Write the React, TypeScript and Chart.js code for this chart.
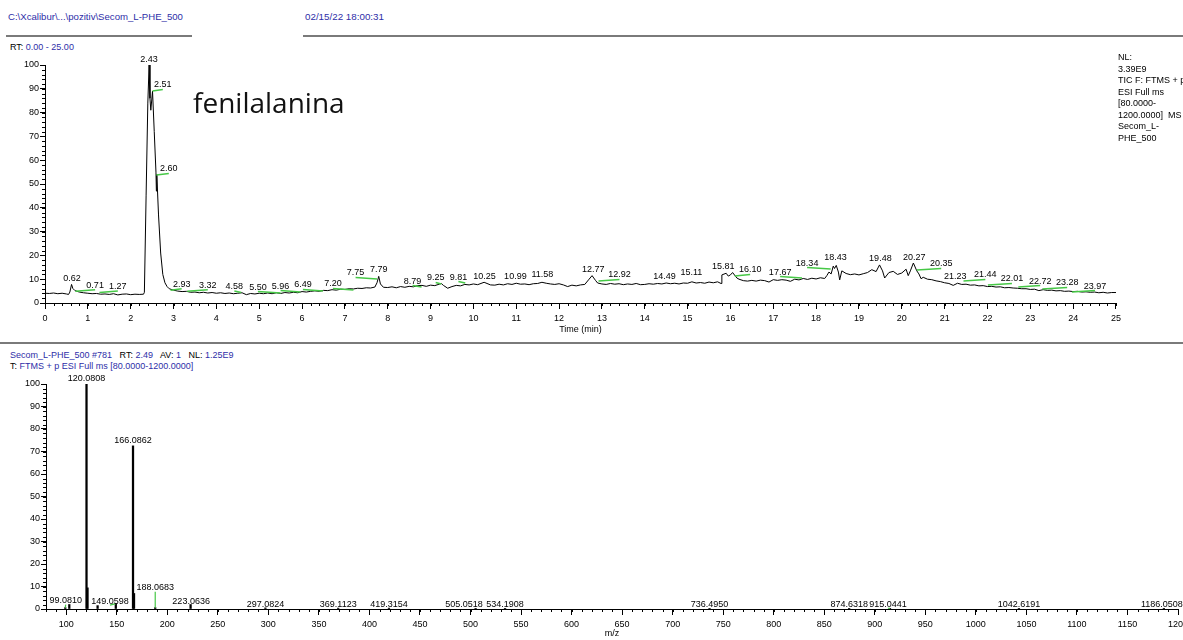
import React, { useEffect, useRef } from "react";
import { Chart, registerables } from "chart.js";

Chart.register(...registerables);

const FONT = '"Liberation Sans", Arial, Helvetica, sans-serif';
const BLUE = "#2e2ea8";
const GREEN = "#46c846";

// ---------- Chromatogram (TIC) ----------
const chromTime = [
  0, 0.1, 0.2, 0.3, 0.4, 0.5, 0.55, 0.58, 0.62, 0.65, 0.7, 0.8, 0.9,
  1, 1.1, 1.2, 1.3, 1.4, 1.5, 1.6, 1.7, 1.8, 1.9,
  2, 2.1, 2.2, 2.3, 2.32, 2.36, 2.4, 2.43, 2.45, 2.47, 2.51, 2.55, 2.59, 2.6, 2.61, 2.65, 2.7, 2.75, 2.8, 2.85, 2.9,
  3, 3.1, 3.2, 3.3, 3.4, 3.5, 3.6, 3.7, 3.8, 3.9,
  4, 4.1, 4.2, 4.3, 4.4, 4.5, 4.6, 4.7, 4.8, 4.9,
  5, 5.1, 5.2, 5.3, 5.4, 5.5, 5.6, 5.7, 5.8, 5.9,
  6, 6.1, 6.2, 6.3, 6.4, 6.5, 6.6, 6.7, 6.8, 6.9,
  7, 7.1, 7.2, 7.3, 7.4, 7.5, 7.6, 7.7, 7.75, 7.79, 7.83, 7.9,
  8, 8.1, 8.2, 8.3, 8.4, 8.5, 8.6, 8.7, 8.8, 8.9,
  9, 9.1, 9.2, 9.25, 9.3, 9.4, 9.5, 9.6, 9.7, 9.8, 9.9,
  10, 10.1, 10.25, 10.4, 10.5, 10.6, 10.7, 10.8, 10.9,
  11, 11.1, 11.2, 11.3, 11.4, 11.5, 11.6, 11.7, 11.8, 11.9,
  12, 12.1, 12.2, 12.3, 12.4, 12.5, 12.6, 12.7, 12.77, 12.85, 12.9,
  13, 13.1, 13.2, 13.3, 13.4, 13.5, 13.6, 13.7, 13.8, 13.9,
  14, 14.1, 14.2, 14.3, 14.4, 14.5, 14.6, 14.7, 14.8, 14.9,
  15, 15.1, 15.2, 15.3, 15.4, 15.5, 15.6, 15.7, 15.78, 15.8, 15.9, 15.95,
  16, 16.05, 16.15, 16.2, 16.3, 16.4, 16.5, 16.6, 16.7, 16.8, 16.9,
  17, 17.1, 17.2, 17.3, 17.4, 17.5, 17.6, 17.7, 17.8, 17.9,
  18, 18.1, 18.2, 18.25, 18.3, 18.35, 18.4, 18.43, 18.47, 18.52, 18.55, 18.6, 18.7, 18.8, 18.9,
  19, 19.1, 19.2, 19.3, 19.4, 19.48, 19.55, 19.6, 19.7, 19.8, 19.9,
  20, 20.1, 20.15, 20.2, 20.27, 20.35, 20.4, 20.45, 20.5, 20.6, 20.7, 20.8, 20.9,
  21, 21.1, 21.2, 21.3, 21.4, 21.5, 21.6, 21.7, 21.8, 21.9,
  22, 22.1, 22.2, 22.3, 22.4, 22.5, 22.6, 22.7, 22.8, 22.9,
  23, 23.1, 23.2, 23.3, 23.4, 23.5, 23.6, 23.7, 23.8, 23.9,
  24, 24.1, 24.2, 24.3, 24.4, 24.5, 24.6, 24.7, 24.8, 24.9,
  25,
];
const chromRel = [
  4.1, 4.0, 4.2, 3.9, 4.1, 3.8, 3.6, 4.6, 7.8, 6.1, 5.2, 4.6, 4.3,
  4.1, 3.9, 4.0, 3.7, 3.8, 3.6, 3.9, 3.4, 3.7, 3.8,
  3.5, 3.7, 3.6, 3.7, 4.5, 45, 84, 100, 86, 81, 89, 72, 55, 47, 54, 37, 21, 12, 8.5, 6.9, 6.0,
  5.4, 5.0, 4.8, 4.9, 4.5, 4.6, 4.3, 4.5, 4.2, 4.4,
  4.1, 4.3, 4.0, 4.2, 3.9, 4.1, 4.3, 3.5, 4.0, 3.8,
  4.1, 3.9, 4.2, 3.9, 4.3, 4.0, 4.4, 4.2, 4.5, 4.3,
  4.8, 4.6, 4.9, 5.1, 4.9, 5.3, 5.2, 5.6, 5.4, 5.8,
  5.7, 6.0, 5.9, 6.2, 6.1, 6.4, 6.3, 6.7, 8.5, 11.2, 8.0, 6.6,
  6.5, 6.8, 6.4, 6.9, 6.6, 7.0, 6.8, 7.3, 7.4, 7.0,
  7.5, 7.3, 7.9, 8.2, 7.4, 6.2, 6.9, 7.4, 7.2, 7.8, 7.6,
  8.0, 7.7, 8.7, 7.6, 7.5, 7.9, 7.6, 8.1, 7.8,
  8.3, 7.9, 8.0, 7.7, 8.1, 8.2, 8.7, 8.3, 8.0, 7.8,
  8.1, 7.6, 6.9, 7.5, 7.2, 7.6, 7.8, 10.0, 11.5, 9.5, 8.4,
  8.0, 7.8, 8.2, 7.9, 8.1, 7.7, 8.0, 7.8, 8.2, 7.7,
  7.8, 8.1, 7.9, 8.2, 8.0, 8.4, 8.1, 8.3, 8.0, 8.4,
  8.3, 8.9, 8.4, 8.6, 8.3, 8.8, 8.5, 8.9, 8.2, 11.8, 12.5, 11.3,
  11.8, 12.8, 10.5, 10.0, 9.4, 9.2, 9.5, 9.2, 9.6, 9.4, 8.8,
  9.8, 9.5, 9.8, 9.6, 9.1, 10.0, 9.7, 10.3, 9.9, 10.4,
  10.1, 10.6, 10.3, 11.5, 13.0, 12.2, 15.5, 14.5, 15.8, 13.0, 9.7, 13.5, 12.4, 11.9, 12.2,
  11.8, 12.3, 12.8, 14.0, 13.2, 16.0, 13.5, 10.5, 12.8, 13.3, 12.0,
  12.6, 14.2, 11.5, 13.5, 16.8, 13.5, 12.2, 10.2, 10.8, 10.0, 9.8, 9.3, 9.0,
  8.5, 8.2, 7.4, 8.3, 7.8, 7.9, 7.5, 7.6, 7.2, 7.3,
  6.9, 7.0, 6.7, 6.8, 6.4, 6.5, 6.3, 6.2, 6.0, 6.0,
  5.7, 5.8, 5.2, 5.6, 5.3, 5.4, 5.1, 5.2, 4.9, 5.0,
  4.8, 4.9, 4.6, 4.7, 4.5, 4.6, 4.3, 4.5, 4.2, 4.4,
  4.4,
];
const rtTicks = [0, 1, 2, 3, 4, 5, 6, 7, 8, 9, 10, 11, 12, 13, 14, 15, 16, 17, 18, 19, 20, 21, 22, 23, 24, 25];
const relTicks = [0, 10, 20, 30, 40, 50, 60, 70, 80, 90, 100];

// peak annotations: apex RT, where the text sits (RT), and its height (%)
const rtPeaks = [0.62, 0.71, 1.27, 2.43, 2.51, 2.6, 2.93, 3.32, 4.58, 5.5, 5.96, 6.49, 7.2, 7.75, 7.79, 8.79, 9.25, 9.81, 10.25, 10.99, 11.58, 12.77, 12.92, 14.49, 15.11, 15.81, 16.1, 17.67, 18.34, 18.43, 19.48, 20.27, 20.35, 21.23, 21.44, 22.01, 22.72, 23.28, 23.97];
const rtLabelAt = [0.63, 1.17, 1.70, 2.43, 2.75, 2.89, 3.19, 3.80, 4.42, 4.97, 5.50, 6.02, 6.72, 7.25, 7.79, 8.58, 9.12, 9.65, 10.26, 10.98, 11.61, 12.80, 13.41, 14.46, 15.09, 15.83, 16.46, 17.16, 17.79, 18.45, 19.50, 20.29, 20.92, 21.25, 21.95, 22.57, 23.23, 23.86, 24.51];
const rtLabelLevel = [10.1, 7.5, 6.9, 102.5, 91.6, 56.3, 7.9, 7.5, 6.9, 6.7, 7.1, 7.6, 8.0, 12.6, 13.9, 9.2, 10.5, 10.9, 11.3, 11.3, 11.8, 13.9, 11.8, 11.3, 12.6, 15.5, 13.9, 13.0, 16.8, 19.3, 18.9, 19.3, 16.4, 11.3, 11.8, 10.1, 9.2, 8.4, 7.1];

// ---------- Mass spectrum ----------
const msMz = [99.081, 103.05, 120.0808, 121.0841, 131.05, 149.0598, 166.0862, 167.0895, 188.0683, 223.0636, 297.0824, 369.1123, 419.3154, 505.0518, 534.1908, 736.495, 874.6318, 915.0441, 1042.6191, 1186.0508];
const msRel = [0.6, 2.0, 100, 9.4, 1.5, 2.4, 72.5, 6.9, 0.6, 2.0, 0.5, 0.4, 0.4, 0.3, 0.3, 0.3, 0.3, 0.3, 0.3, 0.3];
const mzTicks = [100, 150, 200, 250, 300, 350, 400, 450, 500, 550, 600, 650, 700, 750, 800, 850, 900, 950, 1000, 1050, 1100, 1150, 1200];

const msLabelMz = [99.081, 120.0808, 149.0598, 166.0862, 188.0683, 223.0636, 297.0824, 369.1123, 419.3154, 505.0518, 534.1908, 736.495, 874.6318, 915.0441, 1042.6191, 1186.0508];
const msLabelAt = [99.5, 120.0808, 143.3, 166.0862, 188.0683, 223.6, 297.0824, 369.1123, 419.3154, 493.6, 534.1908, 736.495, 874.6318, 913.0, 1042.6191, 1184.0];
const msLabelLevel = [2.6, 101.5, 2.4, 73.6, 8.3, 2.2, 1.0, 1.0, 1.0, 1.0, 1.0, 1.0, 1.0, 1.0, 1.0, 1.0];
const msLabelLeader = [true, false, true, false, true, false, false, false, false, false, false, false, false, true, false, false];

// ---------- plugins ----------
const makeMinorTicks = (xStep: number, yStep: number, len: number) => ({
  id: "minorTicks",
  afterDraw(chart: any) {
    const { ctx, chartArea, scales } = chart;
    const xs = scales.x;
    const ys = scales.y;
    ctx.save();
    ctx.strokeStyle = "#000";
    ctx.lineWidth = 1;
    ctx.beginPath();
    const nx = Math.round((xs.max - xs.min) / xStep);
    for (let i = 0; i <= nx; i++) {
      const px = Math.round(xs.getPixelForValue(xs.min + i * xStep)) + 0.5;
      ctx.moveTo(px, chartArea.bottom);
      ctx.lineTo(px, chartArea.bottom + len);
    }
    const ny = Math.round((ys.max - ys.min) / yStep);
    for (let i = 0; i <= ny; i++) {
      const py = Math.round(ys.getPixelForValue(ys.min + i * yStep)) + 0.5;
      ctx.moveTo(chartArea.left - len, py);
      ctx.lineTo(chartArea.left, py);
    }
    ctx.stroke();
    ctx.restore();
  },
});

const rtLabelPlugin = {
  id: "rtLabels",
  afterDatasetsDraw(chart: any) {
    const { ctx, scales } = chart;
    const xs = scales.x;
    const ys = scales.y;
    ctx.save();
    ctx.font = `9px ${FONT}`;
    ctx.textAlign = "center";
    ctx.textBaseline = "middle";
    rtPeaks.forEach((rt, i) => {
      const tx = xs.getPixelForValue(rtLabelAt[i]);
      const ty = ys.getPixelForValue(rtLabelLevel[i]);
      const px = xs.getPixelForValue(rt);
      if (Math.abs(px - tx) > 3) {
        ctx.strokeStyle = GREEN;
        ctx.lineWidth = 1.5;
        ctx.beginPath();
        ctx.moveTo(px, ty + 6);
        ctx.lineTo(tx, ty + 4.5);
        ctx.stroke();
      }
      ctx.fillStyle = "#000";
      ctx.fillText(rt.toFixed(2), tx, ty);
    });
    ctx.restore();
  },
};

const msLabelPlugin = {
  id: "msLabels",
  afterDatasetsDraw(chart: any) {
    const { ctx, scales } = chart;
    const xs = scales.x;
    const ys = scales.y;
    ctx.save();
    ctx.font = `9px ${FONT}`;
    ctx.textAlign = "center";
    ctx.textBaseline = "alphabetic";
    msLabelMz.forEach((mz, i) => {
      const tx = xs.getPixelForValue(msLabelAt[i]);
      const ty = ys.getPixelForValue(msLabelLevel[i]);
      if (msLabelLeader[i]) {
        const px = xs.getPixelForValue(mz);
        const py = ys.getPixelForValue(msRel[msMz.indexOf(mz)]);
        ctx.strokeStyle = GREEN;
        ctx.lineWidth = 1.2;
        ctx.beginPath();
        ctx.moveTo(tx, ty + 1.5);
        ctx.lineTo(px, py);
        ctx.stroke();
      }
      ctx.fillStyle = "#000";
      ctx.fillText(mz.toFixed(4), tx, ty);
    });
    ctx.restore();
  },
};

const tickFont = { family: FONT, size: 9 };

export default function App() {
  const topRef = useRef<HTMLCanvasElement>(null);
  const botRef = useRef<HTMLCanvasElement>(null);

  useEffect(() => {
    const top = new Chart(topRef.current as HTMLCanvasElement, {
      type: "line",
      data: {
        datasets: [
          {
            data: chromTime.map((t, i) => ({ x: t, y: chromRel[i] })),
            borderColor: "#000",
            borderWidth: 1,
            pointRadius: 0,
            tension: 0,
            fill: false,
          },
        ],
      },
      options: {
        animation: false,
        responsive: false,
        events: [],
        layout: { padding: { left: 0, right: 8, top: 15, bottom: 0 } },
        plugins: { legend: { display: false }, tooltip: { enabled: false } },
        scales: {
          x: {
            type: "linear",
            min: 0,
            max: 25,
            afterBuildTicks: (s: any) => {
              s.ticks = rtTicks.map((v) => ({ value: v }));
            },
            afterFit: (s: any) => {
              s.height = 37;
            },
            ticks: { font: tickFont, color: "#000", padding: 4, maxRotation: 0, autoSkip: false, callback: (v: any) => String(v) },
            grid: { drawOnChartArea: false, drawTicks: true, tickLength: 6, tickColor: "#000" },
            border: { display: true, color: "#000", width: 1 },
            title: { display: true, text: "Time (min)", font: tickFont, color: "#000", padding: { top: 0, bottom: 5 } },
          },
          y: {
            type: "linear",
            min: 0,
            max: 100,
            afterBuildTicks: (s: any) => {
              s.ticks = relTicks.map((v) => ({ value: v }));
            },
            afterFit: (s: any) => {
              s.width = 45;
            },
            ticks: { font: tickFont, color: "#000", padding: 1, callback: (v: any) => String(v) },
            grid: { drawOnChartArea: false, drawTicks: true, tickLength: 5, tickColor: "#000" },
            border: { display: true, color: "#000", width: 1 },
          },
        },
      } as any,
      plugins: [makeMinorTicks(0.2, 2, 3), rtLabelPlugin] as any,
    });

    const bot = new Chart(botRef.current as HTMLCanvasElement, {
      type: "bar",
      data: {
        datasets: [
          {
            data: msMz.map((m, i) => ({ x: m, y: msRel[i] })),
            backgroundColor: "#000",
            borderWidth: 0,
            barThickness: 1.6,
          },
        ],
      },
      options: {
        animation: false,
        responsive: false,
        events: [],
        layout: { padding: { left: 0, right: 22, top: 14, bottom: 0 } },
        plugins: { legend: { display: false }, tooltip: { enabled: false } },
        scales: {
          x: {
            type: "linear",
            min: 80,
            max: 1200,
            offset: false,
            afterBuildTicks: (s: any) => {
              s.ticks = mzTicks.map((v) => ({ value: v }));
            },
            afterFit: (s: any) => {
              s.height = 31;
            },
            ticks: { font: tickFont, color: "#000", padding: 4, maxRotation: 0, autoSkip: false, callback: (v: any) => String(v) },
            grid: { offset: false, drawOnChartArea: false, drawTicks: true, tickLength: 6, tickColor: "#000" },
            border: { display: true, color: "#000", width: 1 },
            title: { display: true, text: "m/z", font: tickFont, color: "#000", padding: { top: 0, bottom: 1 } },
          },
          y: {
            type: "linear",
            min: 0,
            max: 100,
            afterBuildTicks: (s: any) => {
              s.ticks = relTicks.map((v) => ({ value: v }));
            },
            afterFit: (s: any) => {
              s.width = 46;
            },
            ticks: { font: tickFont, color: "#000", padding: 1, callback: (v: any) => String(v) },
            grid: { drawOnChartArea: false, drawTicks: true, tickLength: 5, tickColor: "#000" },
            border: { display: true, color: "#000", width: 1 },
          },
        },
      } as any,
      plugins: [makeMinorTicks(10, 2, 3), msLabelPlugin] as any,
    });

    return () => {
      top.destroy();
      bot.destroy();
    };
  }, []);

  const abs = (left: number, centerY: number, size: number, extra: any = {}) => ({
    position: "absolute" as const,
    left,
    top: centerY - 6,
    fontSize: size,
    lineHeight: "12px",
    whiteSpace: "pre" as const,
    fontFamily: FONT,
    ...extra,
  });

  return (
    <div
      style={{
        position: "fixed",
        left: 0,
        top: 0,
        width: 1183,
        height: 640,
        overflow: "hidden",
        background: "#fff",
        fontFamily: FONT,
        color: "#000",
      }}
    >
      <div style={abs(8, 17, 9.6, { color: BLUE })}>{"C:\\Xcalibur\\...\\pozitiv\\Secom_L-PHE_500"}</div>
      <div style={abs(305, 17, 9.8, { color: BLUE })}>{"02/15/22 18:00:31"}</div>
      <div style={{ position: "absolute", left: 6, top: 35, width: 186, height: 2, background: "#7a7a7a" }} />
      <div style={{ position: "absolute", left: 303, top: 35, width: 880, height: 2, background: "#7a7a7a" }} />
      <div style={abs(10, 47, 9)}>
        {"RT: "}
        <span style={{ color: BLUE }}>{"0.00 - 25.00"}</span>
      </div>

      <canvas
        ref={topRef}
        width={1125}
        height={290}
        style={{ position: "absolute", left: 0, top: 50, width: 1125, height: 290 }}
      />

      <div
        style={{
          position: "absolute",
          left: 193,
          top: 84,
          fontFamily: '"Open Sans", sans-serif',
          fontSize: 28,
          lineHeight: "36px",
          color: "#111",
          whiteSpace: "pre",
        }}
      >
        fenilalanina
      </div>

      <div
        style={{
          position: "absolute",
          left: 1118,
          top: 52,
          fontSize: 9,
          lineHeight: "11.5px",
          whiteSpace: "pre",
          fontFamily: FONT,
        }}
      >
        {"NL:\n3.39E9\nTIC F: FTMS + p\nESI Full ms\n[80.0000-\n1200.0000]  MS\nSecom_L-\nPHE_500"}
      </div>

      <div style={{ position: "absolute", left: 0, top: 342, width: 1183, height: 2, background: "#7a7a7a" }} />
      <div style={abs(10, 355, 9)}>
        <span style={{ color: BLUE }}>{"Secom_L-PHE_500 #781"}</span>
        {"   RT: "}
        <span style={{ color: BLUE }}>{"2.49"}</span>
        {"   AV: "}
        <span style={{ color: BLUE }}>{"1"}</span>
        {"   NL: "}
        <span style={{ color: BLUE }}>{"1.25E9"}</span>
      </div>
      <div style={abs(10, 366, 9)}>
        {"T: "}
        <span style={{ color: BLUE }}>{"FTMS + p ESI Full ms [80.0000-1200.0000]"}</span>
      </div>

      <canvas
        ref={botRef}
        width={1200}
        height={270}
        style={{ position: "absolute", left: 0, top: 370, width: 1200, height: 270 }}
      />
    </div>
  );
}
